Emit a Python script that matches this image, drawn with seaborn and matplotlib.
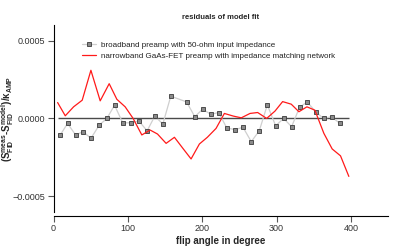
import numpy as np
import pandas as pd
import matplotlib
matplotlib.use("Agg")
import matplotlib.pyplot as plt
import seaborn as sns
from matplotlib.lines import Line2D

# broadband preamp (gray squares)
bb_angle = [9, 18.8, 29.6, 39.9, 50.2, 61.4, 71.7, 82, 93, 103.5, 114.7, 125.9, 136.2, 147,
            157.7, 179, 190, 200.7, 211.4, 222.2, 232.9, 243.7, 254.9, 266, 276.8, 287.6,
            298.8, 309.5, 320.3, 331, 341.3, 352.5, 363.3, 374, 385.2]
bb_resid = [-0.000106, -0.000032, -0.000106, -0.000085, -0.000128, -0.000043, 0.0, 0.000085,
            -0.000028, -0.000028, -0.000017, -0.000079, 0.000015, -0.000036, 0.000143, 0.000106,
            0.000011, 0.00006, 0.000026, 0.000038, -0.00006, -0.000072, -0.000057, -0.000149,
            -0.000079, 0.000087, -0.000047, 0.0, -0.000053, 0.000072, 0.000106, 0.000043, 0.0,
            0.000011, -0.000032]

# narrowband GaAs-FET preamp (red line)
nb_angle = [5.4, 15.7, 26.9, 38.5, 50.2, 62.7, 74.8, 85.1, 96.3, 107, 118.7, 129.9, 139.8,
            151.4, 162.6, 173.8, 185, 196.2, 206.9, 218.6, 229.8, 241.9, 252.6, 264.3, 274.6,
            286.7, 297.9, 308.2, 319.8, 330.1, 340.9, 351.6, 363.7, 374.9, 386.1, 397.3]
nb_resid = [0.000102, 0.000017, 0.0000745, 0.000117, 0.000309, 0.000113, 0.000223, 0.000123,
            0.0000745, 0.0, -0.000106, -0.0000745, -0.0001, -0.00016, -0.000121, -0.000191,
            -0.00026, -0.000164, -0.000121, -0.000064, 0.000032, 0.000015, 0.000004, 0.000032,
            0.000038, 0.0, 0.000047, 0.000108, 0.0000915, 0.000043, 0.0000745, 0.000053,
            -0.0000957, -0.000196, -0.00024, -0.000372]

x_ticks = [0, 100, 200, 300, 400]
y_ticks = [-0.0005, 0.0, 0.0005]
y_ticklabels = ["\u22120.0005", "0.0000", "0.0005"]

bb_label = "broadband preamp with 50-ohm input impedance"
nb_label = "narrowband GaAs-FET preamp with impedance matching network"

sns.set_style("white")
plt.rcParams["font.family"] = ["Liberation Sans", "DejaVu Sans"]
plt.rcParams["mathtext.default"] = "regular"

fig = plt.figure(figsize=(4.0, 2.47), dpi=100)
ax = fig.add_axes([0.134, 0.142, 0.836, 0.757])

df_bb = pd.DataFrame({"angle": bb_angle, "resid": bb_resid})
df_nb = pd.DataFrame({"angle": nb_angle, "resid": nb_resid})

ax.hlines(0, min(nb_angle), max(nb_angle), color="#4a4a4a", lw=1.0, zorder=1)
sns.lineplot(data=df_bb, x="angle", y="resid", ax=ax, color="#cfcfcf", lw=0.9,
             marker="s", markersize=3.5, markerfacecolor="#8a8a8a",
             markeredgecolor="#3a3a3a", markeredgewidth=0.6, zorder=2)
sns.lineplot(data=df_nb, x="angle", y="resid", ax=ax, color="#ff1a1a", lw=0.9, zorder=3)

ax.set_xlim(0, 450)
ax.set_ylim(-0.0006, 0.0006)
ax.set_xticks(x_ticks)
ax.set_xticklabels([str(t) for t in x_ticks])
ax.set_yticks(y_ticks)
ax.set_yticklabels(y_ticklabels)

for s in ["top", "right"]:
    ax.spines[s].set_visible(False)
for s in ["left", "bottom"]:
    ax.spines[s].set_color("black")
    ax.spines[s].set_linewidth(0.8)
ax.spines["bottom"].set_position(("outward", 3))
ax.tick_params(axis="both", which="major", length=4, width=0.8, color="#555555",
               labelsize=6.5, labelcolor="#333333", direction="out",
               left=True, bottom=True, pad=2)

ax.set_xlabel("flip angle in degree", fontsize=7, fontweight="bold", labelpad=2)
ax.set_ylabel(r"$(S_{FID}^{meas}$-$S_{FID}^{model})/\kappa_{AMP}$", fontsize=7,
              fontweight="bold")
ax.yaxis.set_label_coords(-0.112, 0.5)
ax.set_title("residuals of model fit", fontsize=5.5, fontweight="bold", pad=4)

handles = [
    Line2D([], [], color="#cfcfcf", lw=0.9, marker="s", markersize=3.5,
           markerfacecolor="#8a8a8a", markeredgecolor="#3a3a3a", markeredgewidth=0.6),
    Line2D([], [], color="#ff1a1a", lw=0.9),
]
leg = ax.legend(handles, [bb_label, nb_label], loc="upper left",
                bbox_to_anchor=(0.075, 0.93), frameon=False, fontsize=5.8,
                handlelength=1.7, handletextpad=0.7, labelspacing=0.45,
                borderaxespad=0)
for t in leg.get_texts():
    t.set_color("#222222")

fig.savefig("out.png", dpi=100)
